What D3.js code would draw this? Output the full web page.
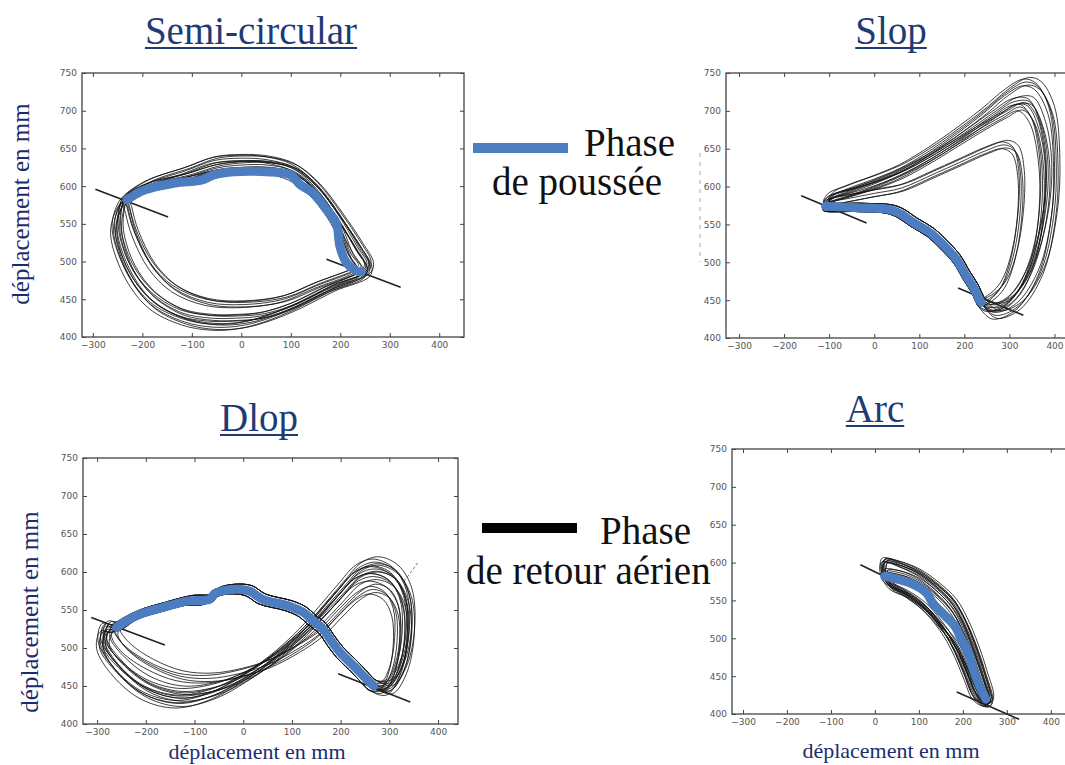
<!DOCTYPE html>
<html>
<head>
<meta charset="utf-8">
<title>Trajectoires de pédalage</title>
<script src="https://cdnjs.cloudflare.com/ajax/libs/d3/7.8.5/d3.min.js"></script>
<style>
    body { margin: 0; background: #fff; }
    svg { display: block; }
    .tick text { font-family: "DejaVu Sans", sans-serif; font-size: 9px; fill: #555; }
    .tick line { stroke: #444; }
    .title { font-family: "Liberation Serif", serif; font-size: 39px; fill: #1f3b73; }
    .axlabel { font-family: "Liberation Serif", serif; font-size: 22px; fill: #1c2d6e; }
    .ylabel { font-size: 25px; }
    .legend { font-family: "Liberation Serif", serif; font-size: 39px; fill: #111; }
</style>
</head>
<body>
<svg id="chart" width="1065" height="765"></svg>
<script>
const xTicks = [-300, -200, -100, 0, 100, 200, 300, 400];
const yTicks = [400, 450, 500, 550, 600, 650, 700, 750];
const yDomain = [400, 750];

// Semi-circular : boucles complètes (outer, mid, inner)
const semiCycles = [
    [[-235,583],[-190,603],[-110,621],[-55,634],[0,637],[52,635],[105,625],[152,600],[199,560],[239,521],[260,496],[255,483],[185,464],[119,442],[52,424],[0,415],[-55,413],[-115,420],[-181,442],[-228,481],[-258,538],[-250,568]],
    [[-235,582],[-190,599],[-110,612],[-50,624],[0,628],[52,628],[105,620],[150,596],[195,556],[232,515],[252,492],[240,482],[170,462],[100,440],[40,428],[-10,425],[-60,425],[-120,432],[-180,456],[-222,492],[-245,538],[-243,568]],
    [[-232,582],[-180,597],[-100,609],[-40,618],[20,620],[80,617],[120,605],[160,580],[195,545],[220,505],[235,490],[225,486],[152,468],[85,450],[5,443],[-68,446],[-135,464],[-181,494],[-215,538],[-228,568]]
];
const semiPush = [[-231,582],[-195,595],[-135,604],[-81,608],[-55,615],[-15,619],[52,619],[99,615],[119,602],[145,591],[172,569],[192,551],[199,521],[212,499],[232,488],[242,486]];
const semiOffsets = [[0,0],[-3,4],[4,-3],[-6,-4],[2,5],[7,3]];
const semiTangents = [[[-295,596],[-148,559]], [[172,503],[322,466]]];

// Slop : phase de poussée + retours
const slopPush = [[-108,574],[-35,572],[30,570],[55,565],[88,552],[124,539],[153,523],[182,504],[204,482],[222,465],[233,451],[237,447]];
const slopReturns = [
    [[268,430],[320,442],[370,488],[398,560],[404,630],[392,700],[362,733],[335,738],[295,725],[245,700],[190,675],[130,650],[60,625],[0,610],[-60,597],[-100,586]],
    [[275,440],[320,462],[355,510],[372,575],[370,640],[350,690],[325,705],[290,695],[245,680],[190,660],[130,638],[60,615],[0,601],[-60,590],[-100,582]],
    [[262,455],[285,470],[305,500],[322,555],[325,615],[312,648],[290,655],[250,648],[190,632],[130,616],[60,598],[0,591],[-60,584],[-100,579]],
    [[255,440],[300,450],[345,490],[378,560],[386,625],[372,680],[345,712],[310,712],[265,695],[210,672],[150,648],[80,625],[10,606],[-50,593],[-98,583]]
];
const slopOffsets = [[0,0],[4,-4],[-4,4],[8,6],[-6,-5]];
const slopTangents = [[[-162,588],[-17,552]], [[186,466],[331,430]]];

// Dlop
const dlopPush = [[-260,527],[-222,542],[-167,553],[-112,562],[-70,564],[-57,572],[-22,577],[12,575],[40,564],[95,555],[123,547],[143,536],[164,525],[178,512],[199,494],[226,477],[247,463],[268,450]];
const dlopReturns = [
    [[302,444],[330,470],[346,520],[340,572],[312,602],[272,613],[236,605],[200,580],[160,550],[120,521],[60,486],[0,459],[-60,438],[-130,427],[-200,438],[-258,468],[-293,505],[-285,528]],
    [[300,452],[322,480],[332,525],[326,562],[302,586],[268,594],[236,588],[200,565],[160,538],[115,512],[55,482],[0,462],[-60,448],[-130,443],[-195,455],[-248,480],[-280,508],[-272,526]],
    [[290,452],[306,472],[316,510],[313,548],[295,570],[266,577],[236,568],[200,546],[160,520],[110,498],[50,478],[-10,466],[-70,460],[-130,463],[-190,478],[-240,500],[-262,520]],
    [[295,447],[325,475],[340,522],[334,565],[308,595],[270,604],[236,597],[200,573],[160,544],[118,516],[58,484],[0,460],[-60,442],[-130,434],[-198,446],[-252,474],[-287,506],[-280,527]]
];
const dlopOffsets = [[0,0],[-5,4],[5,-4],[-8,-6],[6,7]];
const dlopTangents = [[[-312,540],[-161,504]], [[195,466],[343,429]]];
const dlopStray = [[330,588],[345,600],[358,612]];

// Arc
const arcCycles = [
    [[20,590],[26,602],[60,596],[100,585],[140,567],[175,546],[200,521],[222,489],[242,455],[258,425],[263,416],[250,413],[232,425],[212,452],[195,476],[172,500],[148,520],[110,545],[70,561],[36,571],[20,580]],
    [[24,588],[60,586],[100,576],[140,558],[175,536],[200,509],[220,478],[240,446],[254,421],[246,416],[230,433],[206,466],[182,494],[152,515],[112,540],[68,559],[32,574]],
    [[15,592],[20,603],[50,600],[95,590],[140,572],[180,550],[205,525],[230,490],[250,455],[265,420],[255,412],[228,420],[205,450],[185,478],[160,505],[120,535],[75,556],[35,568]]
];
const arcPush = [[22,582],[58,577],[88,571],[117,560],[131,547],[161,529],[182,516],[197,498],[212,481],[226,455],[241,433],[252,420]];
const arcOffsets = [[0,0],[3,-3],[-3,3],[5,2],[-4,-2]];
const arcTangents = [[[-33,597],[45,575]], [[186,429],[328,393]]];

const panels = [
    { title: "Semi-circular", tx: 251, ty: 44, box: { l: 82, r: 464, t: 73, b: 337 }, xd: [-322, 450],
      cycles: semiCycles, push: semiPush, offsets: semiOffsets, tangents: semiTangents,
      ylab: { x: 29, y: 204 } },
    { title: "Slop", tx: 891, ty: 44, box: { l: 726, r: 1077, t: 73, b: 338 }, xd: [-329, 450],
      cycles: slopReturns.map(r => slopPush.concat(r)), push: slopPush, offsets: slopOffsets, tangents: slopTangents },
    { title: "Dlop", tx: 259, ty: 431, box: { l: 83, r: 458, t: 458, b: 724 }, xd: [-329, 441],
      cycles: dlopReturns.map(r => dlopPush.concat(r)), push: dlopPush, offsets: dlopOffsets, tangents: dlopTangents,
      ylab: { x: 38, y: 612 }, xlab: { x: 257, y: 759 }, stray: dlopStray },
    { title: "Arc", tx: 875, ty: 422, box: { l: 732, r: 1075, t: 449, b: 714 }, xd: [-325, 455],
      cycles: arcCycles, push: arcPush, offsets: arcOffsets, tangents: arcTangents,
      xlab: { x: 891, y: 758 } }
];

const svg = d3.select("#chart");
svg.append("rect").attr("width", 1065).attr("height", 765).attr("fill", "#fff");

function drawPanel(p) {
    const x = d3.scaleLinear().domain(p.xd).range([p.box.l, p.box.r]);
    const y = d3.scaleLinear().domain(yDomain).range([p.box.b, p.box.t]);
    const g = svg.append("g");

    g.append("rect")
        .attr("x", p.box.l).attr("y", p.box.t)
        .attr("width", p.box.r - p.box.l).attr("height", p.box.b - p.box.t)
        .attr("fill", "none").attr("stroke", "#444").attr("stroke-width", 1.3);

    const ax = [
        [d3.axisBottom(x).tickValues(xTicks).tickPadding(5), `translate(0,${p.box.b})`, true],
        [d3.axisLeft(y).tickValues(yTicks).tickPadding(5), `translate(${p.box.l},0)`, true],
        [d3.axisTop(x).tickValues(xTicks), `translate(0,${p.box.t})`, false],
        [d3.axisRight(y).tickValues(yTicks), `translate(${p.box.r},0)`, false]
    ];
    ax.forEach(([axis, tr, labels]) => {
        axis.tickSizeInner(-4).tickSizeOuter(0);
        if (!labels) axis.tickFormat("");
        const a = g.append("g").attr("transform", tr).call(axis);
        a.select(".domain").remove();
    });

    const loop = d3.line().x(d => x(d[0])).y(d => y(d[1])).curve(d3.curveCatmullRomClosed.alpha(0.5));
    p.cycles.forEach(c => {
        p.offsets.forEach(o => {
            g.append("path")
                .attr("d", loop(c.map(d => [d[0] + o[0], d[1] + o[1]])))
                .attr("fill", "none").attr("stroke", "#111")
                .attr("stroke-width", 0.9).attr("stroke-opacity", 0.9);
        });
    });

    const seg = d3.line().x(d => x(d[0])).y(d => y(d[1]));
    p.tangents.forEach(t => {
        g.append("path").attr("d", seg(t))
            .attr("stroke", "#222").attr("stroke-width", 1.6).attr("fill", "none");
    });
    if (p.stray) {
        g.append("path").attr("d", seg(p.stray))
            .attr("stroke", "#777").attr("stroke-width", 1).attr("stroke-dasharray", "3 2").attr("fill", "none");
    }

    const pushLine = d3.line().x(d => x(d[0])).y(d => y(d[1])).curve(d3.curveCatmullRom.alpha(0.5));
    g.append("path").attr("d", pushLine(p.push))
        .attr("fill", "none").attr("stroke", "#4b7dc0")
        .attr("stroke-width", 9).attr("stroke-linejoin", "round").attr("stroke-linecap", "round");

    const t = g.append("text").attr("class", "title")
        .attr("x", p.tx).attr("y", p.ty).attr("text-anchor", "middle").text(p.title);
    const w = t.node().getComputedTextLength();
    g.append("line")
        .attr("x1", p.tx - w / 2).attr("x2", p.tx + w / 2)
        .attr("y1", p.ty + 4).attr("y2", p.ty + 4)
        .attr("stroke", "#1f3b73").attr("stroke-width", 2);

    if (p.ylab) {
        g.append("text").attr("class", "axlabel ylabel")
            .attr("transform", `translate(${p.ylab.x},${p.ylab.y}) rotate(-90)`)
            .attr("text-anchor", "middle").text("déplacement en mm");
    }
    if (p.xlab) {
        g.append("text").attr("class", "axlabel")
            .attr("x", p.xlab.x).attr("y", p.xlab.y)
            .attr("text-anchor", "middle").text("déplacement en mm");
    }
}

panels.forEach(drawPanel);

// trace résiduel à gauche du panneau Slop
svg.append("line").attr("x1", 700).attr("x2", 700).attr("y1", 153).attr("y2", 262)
    .attr("stroke", "#aaa").attr("stroke-width", 1).attr("stroke-dasharray", "4 5");

// légende
svg.append("rect").attr("x", 473).attr("y", 143).attr("width", 95).attr("height", 10).attr("fill", "#4b7dc0");
svg.append("text").attr("class", "legend").attr("x", 584).attr("y", 156).text("Phase");
svg.append("text").attr("class", "legend").attr("x", 492).attr("y", 195).text("de poussée");

svg.append("rect").attr("x", 482).attr("y", 523).attr("width", 95).attr("height", 10).attr("fill", "#000");
svg.append("text").attr("class", "legend").attr("x", 600).attr("y", 544).text("Phase");
svg.append("text").attr("class", "legend").attr("x", 466).attr("y", 584).text("de retour aérien");
</script>
</body>
</html>
